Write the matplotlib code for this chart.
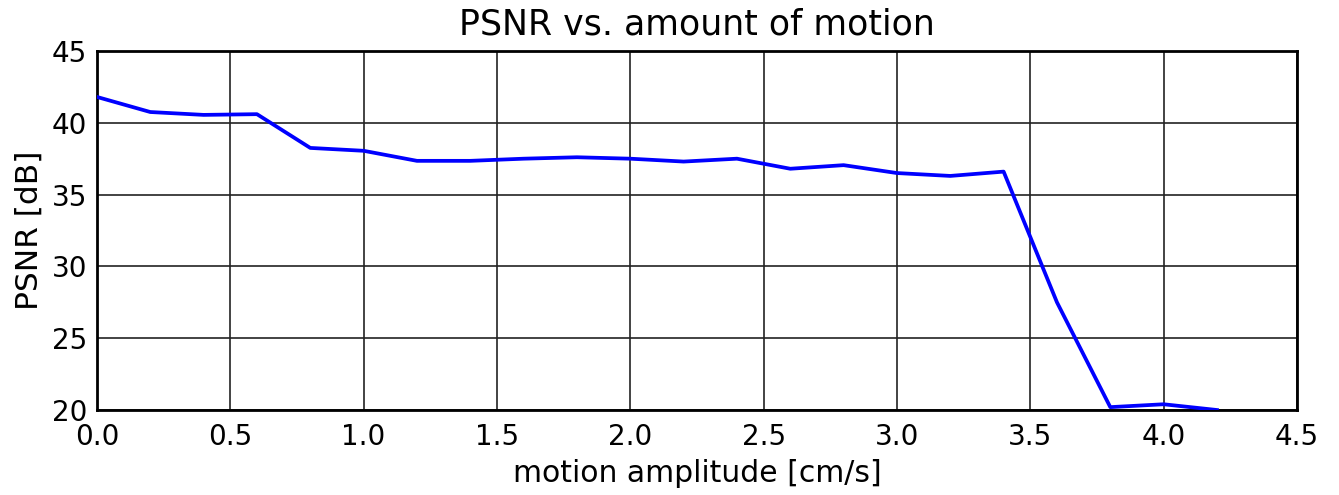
import matplotlib
matplotlib.use("Agg")
import matplotlib.pyplot as plt

# motion amplitude [cm/s] and PSNR [dB]
amplitude = [0.0, 0.2, 0.4, 0.6, 0.8, 1.0, 1.2, 1.4, 1.6, 1.8, 2.0,
             2.2, 2.4, 2.6, 2.8, 3.0, 3.2, 3.4, 3.6, 3.8, 4.0, 4.2]
psnr = [41.8, 40.75, 40.55, 40.6, 38.25, 38.05, 37.35, 37.35, 37.5, 37.6, 37.5,
        37.3, 37.5, 36.8, 37.05, 36.5, 36.3, 36.6, 27.5, 20.2, 20.4, 20.0]

xticks = [0.0, 0.5, 1.0, 1.5, 2.0, 2.5, 3.0, 3.5, 4.0, 4.5]
yticks = [20, 25, 30, 35, 40, 45]

plt.rcParams['font.family'] = ['DejaVu Sans']

fig = plt.figure(figsize=(13.39, 4.95), dpi=100)
ax = fig.add_axes([0.0724, 0.1717, 0.8962, 0.7253])

ax.plot(amplitude, psnr, color='#0000ff', linewidth=2.7, zorder=3)

ax.set_xlim(0, 4.5)
ax.set_ylim(20, 45)
ax.set_xticks(xticks)
ax.set_xticklabels([f'{v:.1f}' for v in xticks])
ax.set_yticks(yticks)
ax.grid(True, color='#222222', linewidth=1.2)
ax.tick_params(labelsize=20, length=0)
ax.tick_params(axis='x', pad=9)
ax.tick_params(axis='y', pad=7)
for s in ax.spines.values():
    s.set_linewidth(2)
    s.set_color('black')

ax.set_title('PSNR vs. amount of motion', fontsize=25, pad=12)
ax.set_xlabel('motion amplitude [cm/s]', fontsize=21.5, labelpad=6)
ax.set_ylabel('PSNR [dB]', fontsize=22.5, labelpad=6)

fig.savefig('out.png', dpi=100)
